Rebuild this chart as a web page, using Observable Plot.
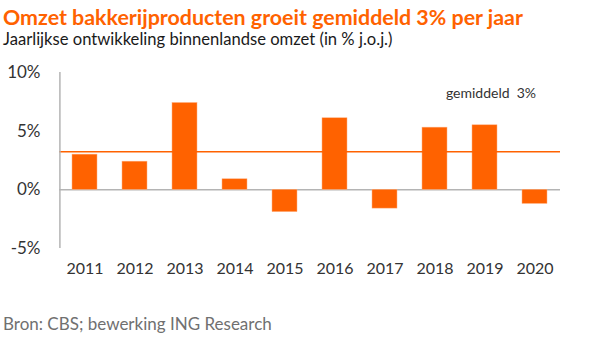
<!DOCTYPE html>
<html>
<head>
<meta charset="utf-8">
<script src="https://cdn.jsdelivr.net/npm/d3@7"></script>
<script src="https://cdn.jsdelivr.net/npm/@observablehq/plot@0.6"></script>
<style>
  html, body { margin: 0; padding: 0; background: #fff; }
  body { width: 606px; height: 354px; position: relative; overflow: hidden; font-family: Lato, "Open Sans", sans-serif; }
  #title { position: absolute; left: 3px; top: 4px; font-size: 21.4px; font-weight: bold; color: #ff6200; white-space: nowrap; }
  #subtitle { position: absolute; left: 3px; top: 29px; font-size: 16.6px; color: #1a1a1a; white-space: nowrap; }
  #chart { position: absolute; left: 0; top: 56px; }
  #caption { position: absolute; left: 3px; top: 313px; font-size: 17px; color: #707070; white-space: nowrap; }
</style>
</head>
<body>
<div id="title">Omzet bakkerijproducten groeit gemiddeld 3% per jaar</div>
<div id="subtitle">Jaarlijkse ontwikkeling binnenlandse omzet (in % j.o.j.)</div>
<div id="chart"></div>
<div id="caption">Bron: CBS; bewerking ING Research</div>
<script>
const years = ["2011","2012","2013","2014","2015","2016","2017","2018","2019","2020"];
const growth = [3.0, 2.4, 7.4, 0.9, -1.9, 6.1, -1.6, 5.3, 5.5, -1.2];
const average = 3.25;
const averageLabel = "gemiddeld\u00a0 3%";
const yTicks = [-5, 0, 5, 10];

const data = years.map((y, i) => ({year: y, value: growth[i]}));

const chart = Plot.plot({
  width: 606,
  height: 240,
  marginTop: 16,
  marginBottom: 48,
  marginLeft: 59,
  marginRight: 46,
  style: {fontFamily: "Lato, 'Open Sans', sans-serif", fontSize: "16px", color: "#333"},
  x: {domain: years, paddingInner: 0.5, paddingOuter: 0.25, label: null},
  y: {domain: [-5, 10], label: null},
  marks: [
    Plot.axisY({ticks: yTicks, tickSize: 0, tickPadding: 19, tickFormat: d => d + "%", fontSize: 17, fill: "#333", label: null}),
    Plot.axisX({tickSize: 0, tickPadding: 14, fontSize: 16, fill: "#333", label: null}),
    Plot.ruleY([0], {stroke: "#b4b4b4", strokeWidth: 1.5}),
    Plot.barY(data, {x: "year", y: "value", fill: "#ff6200", stroke: "#ffb080", strokeWidth: 0.5}),
    Plot.ruleY([average], {stroke: "#ff6200", strokeWidth: 1.4}),
    Plot.ruleX([0], {x: () => years[0], y1: -5, y2: 10, stroke: "#b4b4b4", strokeWidth: 1.5, dx: -25.1}),
    Plot.text([averageLabel], {x: () => "2019", y: () => 8.2, text: d => d, textAnchor: "middle", dx: 6, fontSize: 14, fill: "#333"})
  ]
});
document.getElementById("chart").appendChild(chart);
</script>
</body>
</html>
